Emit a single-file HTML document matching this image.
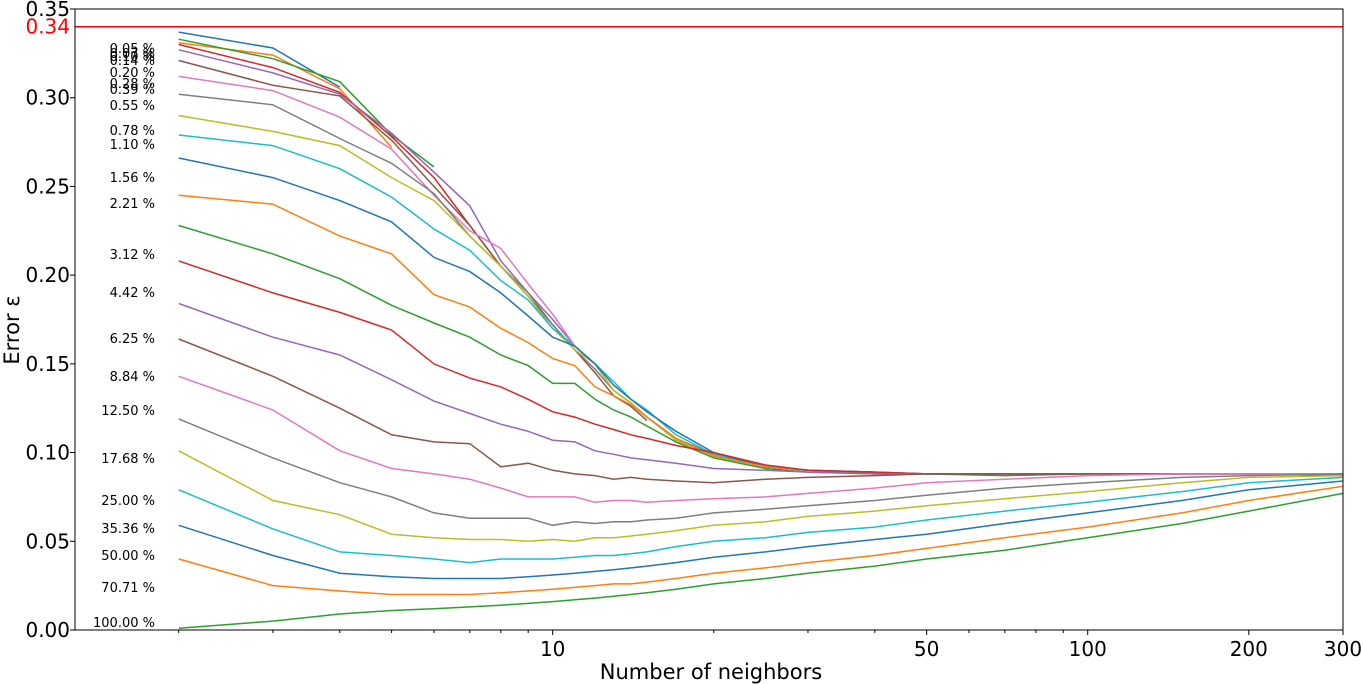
<!DOCTYPE html>
<html><head><meta charset="utf-8"><style>
html,body{margin:0;padding:0;background:#fff;}
svg{display:block;font-family:"DejaVu Sans","Liberation Sans",sans-serif;}
</style></head><body>
<svg id="chart" width="1363" height="684" viewBox="0 0 1363 684">
<g id="plot"></g>
<g id="labels" font-size="13" text-anchor="end" fill="#000">
<text x="155" y="53">0.05 %</text>
<text x="155" y="58">0.07 %</text>
<text x="155" y="61">0.10 %</text>
<text x="155" y="65">0.14 %</text>
<text x="155" y="77">0.20 %</text>
<text x="155" y="88">0.28 %</text>
<text x="155" y="94">0.39 %</text>
<text x="155" y="110">0.55 %</text>
<text x="155" y="135">0.78 %</text>
<text x="155" y="149">1.10 %</text>
<text x="155" y="182">1.56 %</text>
<text x="155" y="208">2.21 %</text>
<text x="155" y="259">3.12 %</text>
<text x="155" y="297">4.42 %</text>
<text x="155" y="343">6.25 %</text>
<text x="155" y="381">8.84 %</text>
<text x="155" y="415">12.50 %</text>
<text x="155" y="463">17.68 %</text>
<text x="155" y="505">25.00 %</text>
<text x="155" y="533">35.36 %</text>
<text x="155" y="560">50.00 %</text>
<text x="155" y="592">70.71 %</text>
<text x="155" y="627">100.00 %</text>
</g>
<text x="711" y="679" font-size="21" text-anchor="middle">Number of neighbors</text>
<text transform="translate(19,330) rotate(-90)" font-size="21" text-anchor="middle">Error ε</text>
</svg>
<script>
const kValues = [2,3,4,5,6,7,8,9,10,11,12,13,14,15,17,20,25,30,40,50,70,100,150,200,300];
const s005 = [.337,.328,.306];
const s007 = [.331,.324,.305,.272];
const s010 = [.333,.322,.309,.279,.261];
const s014 = [.330,.317,.303,.278,.255,.228,.205];
const s020 = [.327,.314,.302,.280,.258,.239,.208,.190,.175,.160];
const s028 = [.321,.307,.301,.276,.250,.228,.205,.188,.172,.158,.145,.132,.126,.118];
const s039 = [.312,.304,.289,.271,.245,.225,.215,.195,.178,.160,.150,.135,.128,.120,.108,.098];
const s055 = [.302,.296,.277,.263,.246,.222,.205,.190,.172,.158,.147,.135,.128,.120,.108,.099,.092,.090];
const s078 = [.290,.281,.273,.255,.242,.222,.205,.188,.170,.158,.150,.135,.128,.120,.107,.098,.092,.090,.088];
const s110 = [.279,.273,.260,.244,.226,.214,.197,.186,.170,.160,.150,.140,.130,.124,.110,.099,.092,.090,.089,.088];
const s156 = [.266,.255,.242,.230,.210,.202,.190,.177,.165,.160,.150,.138,.130,.123,.112,.100,.092,.090,.089,.088,.088,.088];
const s221 = [.245,.240,.222,.212,.189,.182,.170,.162,.153,.149,.137,.132,.127,.120,.108,.098,.092,.090,.088,.088,.088,.088,.088];
const s312 = [.228,.212,.198,.183,.173,.165,.155,.149,.139,.139,.130,.124,.120,.115,.106,.097,.091,.089,.088,.088,.087,.088,.088,.088,.088];
const s442 = [.208,.190,.179,.169,.150,.142,.137,.130,.123,.120,.116,.113,.110,.108,.104,.100,.093,.090,.089,.088,.088,.088,.088,.088,.087];
const s625 = [.184,.165,.155,.141,.129,.122,.116,.112,.107,.106,.101,.099,.097,.096,.094,.091,.090,.089,.088,.088,.088,.088,.088,.088,.087];
const s884 = [.164,.143,.125,.110,.106,.105,.092,.094,.090,.088,.087,.085,.086,.085,.084,.083,.085,.086,.087,.088,.088,.088,.088,.088,.087];
const s1250 = [.143,.124,.101,.091,.088,.085,.080,.075,.075,.075,.072,.073,.073,.072,.073,.074,.075,.077,.080,.083,.085,.087,.088,.088,.088];
const s1768 = [.119,.097,.083,.075,.066,.063,.063,.063,.059,.061,.060,.061,.061,.062,.063,.066,.068,.070,.073,.076,.080,.083,.086,.087,.088];
const s2500 = [.101,.073,.065,.054,.052,.051,.051,.050,.051,.050,.052,.052,.053,.054,.056,.059,.061,.064,.067,.070,.074,.078,.083,.086,.087];
const s3536 = [.079,.057,.044,.042,.040,.038,.040,.040,.040,.041,.042,.042,.043,.044,.047,.050,.052,.055,.058,.062,.067,.072,.078,.083,.086];
const s5000 = [.059,.042,.032,.030,.029,.029,.029,.030,.031,.032,.033,.034,.035,.036,.038,.041,.044,.047,.051,.054,.060,.066,.073,.079,.084];
const s7071 = [.040,.025,.022,.020,.020,.020,.021,.022,.023,.024,.025,.026,.026,.027,.029,.032,.035,.038,.042,.046,.052,.058,.066,.073,.081];
const s10000 = [.001,.005,.009,.011,.012,.013,.014,.015,.016,.017,.018,.019,.020,.021,.023,.026,.029,.032,.036,.040,.045,.052,.060,.067,.077];
const seriesList = [s005,s007,s010,s014,s020,s028,s039,s055,s078,s110,s156,s221,s312,s442,s625,s884,s1250,s1768,s2500,s3536,s5000,s7071,s10000];
const seriesNames = ["0.05","0.07","0.10","0.14","0.20","0.28","0.39","0.55","0.78","1.10","1.56","2.21","3.12","4.42","6.25","8.84","12.50","17.68","25.00","35.36","50.00","70.71","100.00"];
const yTicks = [0,0.05,0.10,0.15,0.20,0.25,0.30,0.35];
const xMajorTicks = [10,50,100,200,300];
const baselineValue = 0.34;

const L=75,R=1343,T=9,B=630;
const xMin=Math.log10(1.28), xMax=Math.log10(300);
function xs(k){return L+(Math.log10(k)-xMin)/(xMax-xMin)*(R-L);}
function ys(v){return B-v/0.35*(B-T);}
const colors=["#1f77b4","#ff7f0e","#2ca02c","#d62728","#9467bd","#8c564b","#e377c2","#7f7f7f","#bcbd22","#17becf"];
const NS="http://www.w3.org/2000/svg";
const svg=document.getElementById('chart');
const plot=document.getElementById('plot');
function mk(tag,attrs,parent){const e=document.createElementNS(NS,tag);for(const a in attrs)e.setAttribute(a,attrs[a]);(parent||plot).appendChild(e);return e;}

seriesList.forEach((s,i)=>{
  const pts=s.map((v,j)=>xs(kValues[j]).toFixed(1)+","+ys(v).toFixed(1)).join(" ");
  const pl=mk('polyline',{points:pts,fill:'none',stroke:colors[i%10],'stroke-width':1.5});
  
  
});
const bl=mk('line',{x1:L,x2:R,y1:ys(baselineValue),y2:ys(baselineValue),stroke:'#ff0000','stroke-width':1.5});


const bt=mk('text',{x:70,y:ys(baselineValue)+7,'font-size':20,'text-anchor':'end',fill:'#ff0000'},svg);
bt.textContent='0.34';



const fr=mk('rect',{x:L,y:T,width:R-L,height:B-T,fill:'none',stroke:'#000','stroke-width':1},svg);



yTicks.forEach(v=>{
  const t=mk('line',{x1:L-5,x2:L,y1:ys(v),y2:ys(v),stroke:'#000'},svg);
  
  
  const tx=mk('text',{x:70,y:ys(v)+7,'font-size':20,'text-anchor':'end'},svg);
  tx.textContent=v.toFixed(2);
  
  
});
for(let d=1;d<=100;d*=10){for(let m=1;m<10;m++){const k=d*m;if(k<1.28||k>300)continue;
  const major=xMajorTicks.includes(k);
  const t=mk('line',{x1:xs(k),x2:xs(k),y1:B,y2:B+(major?5:3),stroke:'#000'},svg);
  
  
}}
xMajorTicks.forEach(k=>{
  const tx=mk('text',{x:xs(k),y:656,'font-size':20,'text-anchor':'middle'},svg);
  tx.textContent=String(k);
  
  
});
</script>
</body></html>
